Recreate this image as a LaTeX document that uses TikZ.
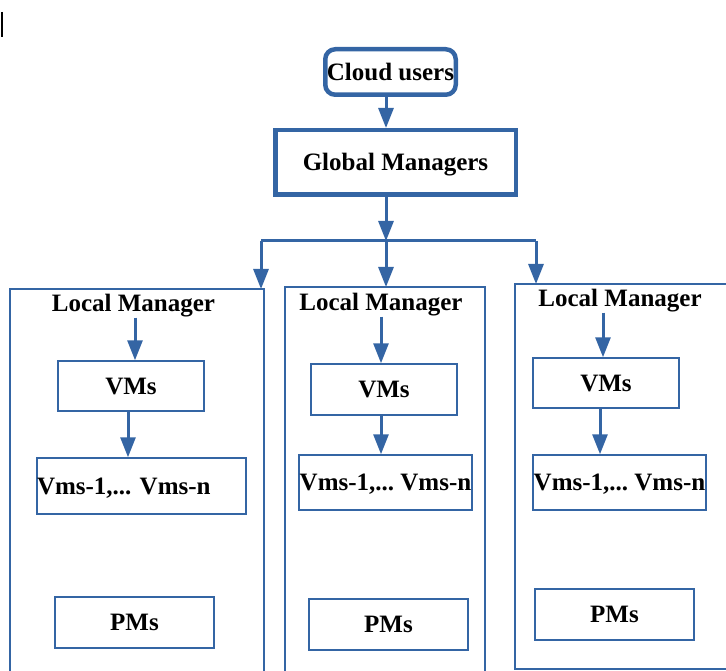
\documentclass[tikz,border=0pt]{standalone}
\usepackage{fontspec}
\setmainfont{Liberation Serif}
\usepackage{xcolor}
\usetikzlibrary{arrows.meta, positioning, calc}
\definecolor{lineblue}{HTML}{3465A4}

\begin{document}
\begin{tikzpicture}[
  x=1pt, y=-1pt,
  every node/.style={font=\fontsize{25}{30}\selectfont\bfseries\frenchspacing, inner sep=0pt},
  mainbox/.style={draw=lineblue, line width=4.5pt, text height=16.5pt, text depth=0pt},
  userbox/.style={mainbox, rounded corners=10pt},
  unitbox/.style={draw=lineblue, line width=1.5pt, text height=16.5pt, text depth=0pt},
  groupbox/.style={draw=lineblue, line width=1.5pt},
  lmtext/.style={anchor=base},
  arrow/.style={draw=lineblue, line width=3pt, -{Triangle[length=20pt,width=15pt]}}
]
\useasboundingbox (0,0) rectangle (726,671);
\clip (0,0) rectangle (726,671);

\draw[line width=1.2pt] (2,12) -- (2,37);

% top of the hierarchy
\node[userbox, minimum width=130.5pt, minimum height=45.5pt] (users) at (390.5,72) {Cloud users};
\node[mainbox, minimum width=240.5pt, minimum height=64.5pt] (global) at (395.5,162.5) {Global Managers};

% local manager groups
\node[groupbox, minimum width=254pt, minimum height=411pt] (group1) at (137,494.5) {};
\node[groupbox, minimum width=200pt, minimum height=413pt] (group2) at (385,493.5) {};
\node[groupbox, minimum width=225pt, minimum height=385pt] (group3) at (627.5,476.5) {};

\node[lmtext] (lm1) at (133.5,312) {Local Manager};
\node[lmtext] (lm2) at (381,311) {Local Manager};
\node[lmtext] (lm3) at (620,307) {Local Manager};

\node[unitbox, minimum width=146pt, minimum height=50pt] (vms1) at (131,386) {VMs};
\node[unitbox, minimum width=146pt, minimum height=51pt] (vms2) at (384,389.5) {VMs};
\node[unitbox, minimum width=146pt, minimum height=50pt] (vms3) at (606,383) {VMs};

\node[unitbox, text width=209pt, align=left, minimum height=56pt] (vmsn1) at (141.5,486) {Vms-1,... Vms-n};
\node[unitbox, minimum width=173pt, minimum height=55pt] (vmsn2) at (385.5,482.5) {Vms-1,... Vms-n};
\node[unitbox, minimum width=173pt, minimum height=55pt] (vmsn3) at (619.5,482.5) {Vms-1,... Vms-n};

\node[unitbox, minimum width=159pt, minimum height=51pt] (pms1) at (134.5,622.5) {PMs};
\node[unitbox, minimum width=159pt, minimum height=51pt] (pms2) at (388.5,624.5) {PMs};
\node[unitbox, minimum width=159pt, minimum height=51pt] (pms3) at (614.5,614.5) {PMs};

% connectors
\coordinate (bus) at (386,241);
\coordinate (in1) at (261,289);
\coordinate (in2) at (386,287);
\coordinate (in3) at (536,284);

\draw[arrow] (users.south -| bus) -- (global.north -| bus);
\draw[arrow] (global.south -| bus) -- (bus);
\draw[draw=lineblue, line width=3pt] (in1 |- bus) -- (in3 |- bus);
\draw[arrow] (in1 |- bus) -- (in1);
\draw[arrow] (bus) -- (in2);
\draw[arrow] (in3 |- bus) -- (in3);

\coordinate (a1) at (135,0);
\coordinate (b1) at (128,0);
\coordinate (a2) at (381,0);
\coordinate (b2) at (381,0);
\coordinate (a3) at (603,0);
\coordinate (b3) at (600,0);

\draw[arrow] (lm1.south -| a1) -- (vms1.north -| a1);
\draw[arrow] (vms1.south -| b1) -- (vmsn1.north -| b1);
\draw[arrow] (lm2.south -| a2) -- (vms2.north -| a2);
\draw[arrow] (vms2.south -| b2) -- (vmsn2.north -| b2);
\draw[arrow] (lm3.south -| a3) -- (vms3.north -| a3);
\draw[arrow] (vms3.south -| b3) -- (vmsn3.north -| b3);

\end{tikzpicture}
\end{document}
